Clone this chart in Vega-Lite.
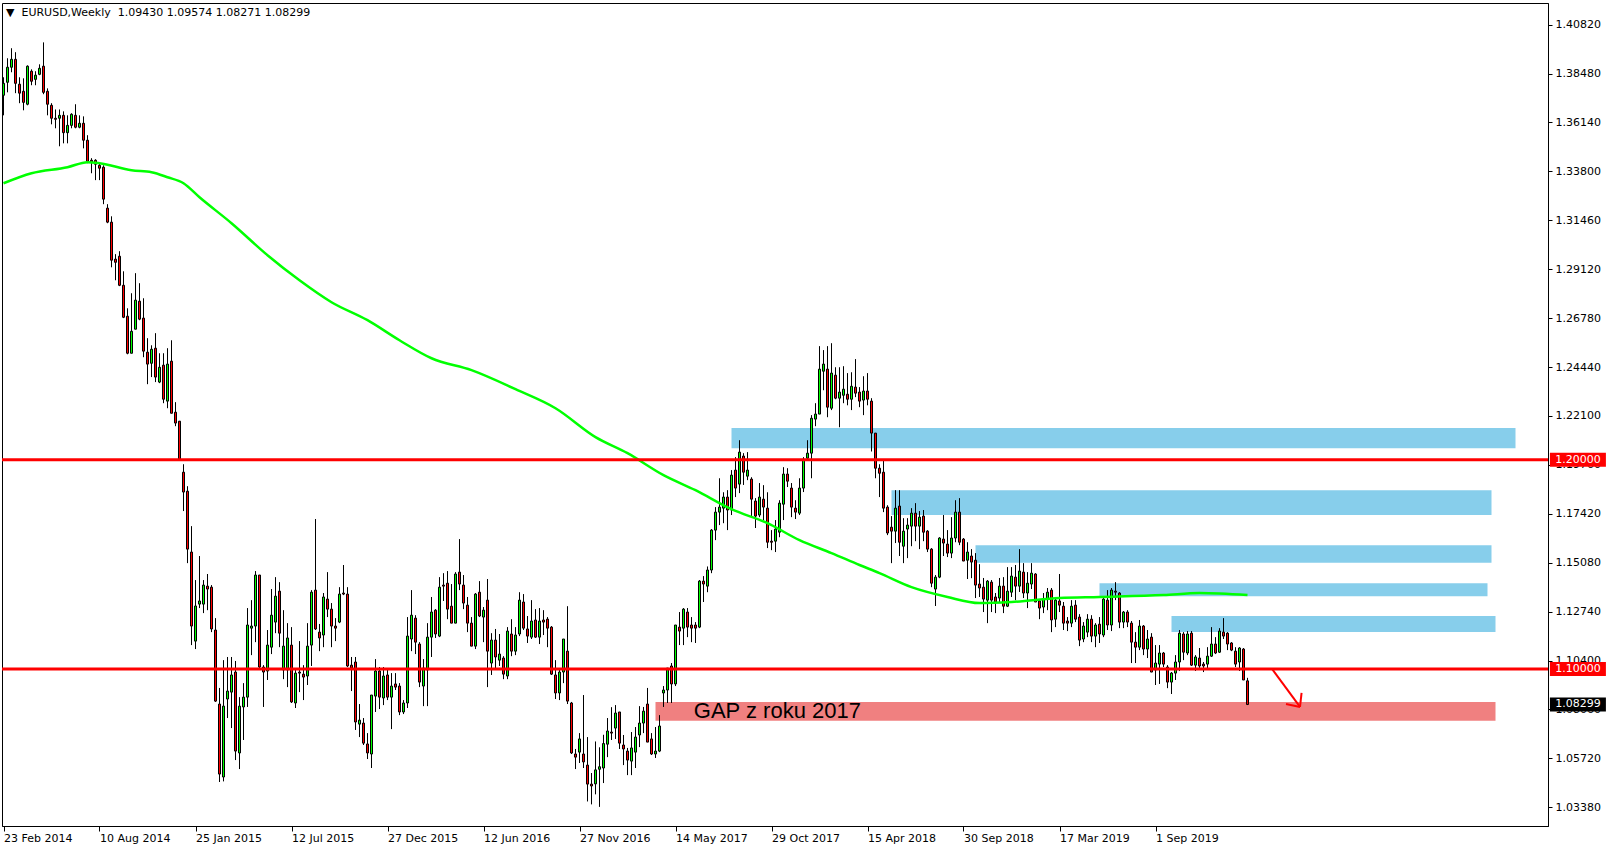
{
"$schema":"https://vega.github.io/schema/vega-lite/v6.json",
"width":1546,"height":823,
"autosize":{"type":"none"},
"padding":{"left":2,"top":3,"right":64,"bottom":24},
"background":"white",
"title":{"text":"▼\u00a0\u00a0EURUSD,Weekly\u00a0\u00a01.09430 1.09574 1.08271 1.08299","anchor":"start","frame":"group","offset":-15,"fontSize":11,"font":"DejaVu Sans","fontWeight":"normal","color":"black","dx":4},
"config":{"view":{"stroke":"black","strokeWidth":1},"text":{"font":"DejaVu Sans"},"scale":{"continuousPadding":0}},
"datasets":{
"candles":[
{"d":"2014-02-23","o":1.3744,"h":1.3830,"l":1.3648,"c":1.3801},
{"d":"2014-03-02","o":1.3806,"h":1.3921,"l":1.3758,"c":1.3878},
{"d":"2014-03-09","o":1.3878,"h":1.3969,"l":1.3854,"c":1.3916},
{"d":"2014-03-16","o":1.3916,"h":1.3950,"l":1.3754,"c":1.3801},
{"d":"2014-03-23","o":1.3797,"h":1.3830,"l":1.3706,"c":1.3754},
{"d":"2014-03-30","o":1.3763,"h":1.3825,"l":1.3672,"c":1.3710},
{"d":"2014-04-06","o":1.3701,"h":1.3887,"l":1.3696,"c":1.3883},
{"d":"2014-04-13","o":1.3859,"h":1.3868,"l":1.3792,"c":1.3811},
{"d":"2014-04-20","o":1.3820,"h":1.3859,"l":1.3792,"c":1.3840},
{"d":"2014-04-27","o":1.3844,"h":1.3892,"l":1.3840,"c":1.3873},
{"d":"2014-05-04","o":1.3883,"h":1.3997,"l":1.3749,"c":1.3758},
{"d":"2014-05-11","o":1.3763,"h":1.3777,"l":1.3648,"c":1.3701},
{"d":"2014-05-18","o":1.3696,"h":1.3706,"l":1.3605,"c":1.3634},
{"d":"2014-05-25","o":1.3634,"h":1.3676,"l":1.3586,"c":1.3629},
{"d":"2014-06-01","o":1.3634,"h":1.3676,"l":1.3500,"c":1.3648},
{"d":"2014-06-08","o":1.3648,"h":1.3667,"l":1.3514,"c":1.3565},
{"d":"2014-06-15","o":1.3565,"h":1.3648,"l":1.3514,"c":1.3600},
{"d":"2014-06-22","o":1.3600,"h":1.3658,"l":1.3586,"c":1.3653},
{"d":"2014-06-29","o":1.3648,"h":1.3701,"l":1.3586,"c":1.3591},
{"d":"2014-07-06","o":1.3591,"h":1.3648,"l":1.3586,"c":1.3610},
{"d":"2014-07-13","o":1.3610,"h":1.3643,"l":1.3490,"c":1.3529},
{"d":"2014-07-20","o":1.3529,"h":1.3553,"l":1.3419,"c":1.3428},
{"d":"2014-07-27","o":1.3433,"h":1.3443,"l":1.3371,"c":1.3424},
{"d":"2014-08-03","o":1.3433,"h":1.3438,"l":1.3338,"c":1.3414},
{"d":"2014-08-10","o":1.3409,"h":1.3419,"l":1.3338,"c":1.3395},
{"d":"2014-08-17","o":1.3400,"h":1.3409,"l":1.3223,"c":1.3247},
{"d":"2014-08-24","o":1.3204,"h":1.3223,"l":1.3132,"c":1.3137},
{"d":"2014-08-31","o":1.3137,"h":1.3165,"l":1.2921,"c":1.2955},
{"d":"2014-09-07","o":1.2960,"h":1.2984,"l":1.2859,"c":1.2945},
{"d":"2014-09-14","o":1.2974,"h":1.2998,"l":1.2831,"c":1.2835},
{"d":"2014-09-21","o":1.2835,"h":1.2902,"l":1.2678,"c":1.2682},
{"d":"2014-09-28","o":1.2687,"h":1.2725,"l":1.2505,"c":1.2510},
{"d":"2014-10-05","o":1.2510,"h":1.2797,"l":1.2510,"c":1.2615},
{"d":"2014-10-12","o":1.2625,"h":1.2893,"l":1.2625,"c":1.2764},
{"d":"2014-10-19","o":1.2759,"h":1.2845,"l":1.2668,"c":1.2673},
{"d":"2014-10-26","o":1.2678,"h":1.2773,"l":1.2491,"c":1.2520},
{"d":"2014-11-02","o":1.2515,"h":1.2582,"l":1.2362,"c":1.2458},
{"d":"2014-11-09","o":1.2462,"h":1.2548,"l":1.2396,"c":1.2529},
{"d":"2014-11-16","o":1.2534,"h":1.2606,"l":1.2372,"c":1.2396},
{"d":"2014-11-23","o":1.2372,"h":1.2510,"l":1.2367,"c":1.2443},
{"d":"2014-11-30","o":1.2453,"h":1.2510,"l":1.2271,"c":1.2290},
{"d":"2014-12-07","o":1.2281,"h":1.2534,"l":1.2247,"c":1.2458},
{"d":"2014-12-14","o":1.2472,"h":1.2572,"l":1.2223,"c":1.2223},
{"d":"2014-12-21","o":1.2228,"h":1.2276,"l":1.2161,"c":1.2176},
{"d":"2014-12-28","o":1.2185,"h":1.2185,"l":1.1999,"c":1.2003},
{"d":"2015-01-04","o":1.1941,"h":1.1979,"l":1.1755,"c":1.1846},
{"d":"2015-01-11","o":1.1850,"h":1.1874,"l":1.1506,"c":1.1573},
{"d":"2015-01-18","o":1.1559,"h":1.1683,"l":1.1114,"c":1.1205},
{"d":"2015-01-25","o":1.1133,"h":1.1425,"l":1.1095,"c":1.1301},
{"d":"2015-02-01","o":1.1310,"h":1.1540,"l":1.1291,"c":1.1325},
{"d":"2015-02-08","o":1.1310,"h":1.1425,"l":1.1267,"c":1.1401},
{"d":"2015-02-15","o":1.1396,"h":1.1454,"l":1.1281,"c":1.1382},
{"d":"2015-02-22","o":1.1391,"h":1.1401,"l":1.1176,"c":1.1191},
{"d":"2015-03-01","o":1.1186,"h":1.1243,"l":1.0842,"c":1.0846},
{"d":"2015-03-08","o":1.0832,"h":1.0909,"l":1.0459,"c":1.0497},
{"d":"2015-03-15","o":1.0483,"h":1.1042,"l":1.0462,"c":1.0822},
{"d":"2015-03-22","o":1.0856,"h":1.1057,"l":1.0765,"c":1.0894},
{"d":"2015-03-29","o":1.0889,"h":1.1057,"l":1.0717,"c":1.0971},
{"d":"2015-04-05","o":1.0985,"h":1.1038,"l":1.0564,"c":1.0607},
{"d":"2015-04-12","o":1.0598,"h":1.0865,"l":1.0521,"c":1.0822},
{"d":"2015-04-19","o":1.0818,"h":1.0932,"l":1.0660,"c":1.0865},
{"d":"2015-04-26","o":1.0865,"h":1.1291,"l":1.0818,"c":1.1210},
{"d":"2015-05-03","o":1.1195,"h":1.1329,"l":1.1066,"c":1.1205},
{"d":"2015-05-10","o":1.1205,"h":1.1468,"l":1.1128,"c":1.1449},
{"d":"2015-05-17","o":1.1449,"h":1.1449,"l":1.0995,"c":1.1009},
{"d":"2015-05-24","o":1.1009,"h":1.1018,"l":1.0818,"c":1.0985},
{"d":"2015-05-31","o":1.0990,"h":1.1186,"l":1.0947,"c":1.1114},
{"d":"2015-06-07","o":1.1104,"h":1.1382,"l":1.1071,"c":1.1257},
{"d":"2015-06-14","o":1.1224,"h":1.1439,"l":1.1171,"c":1.1348},
{"d":"2015-06-21","o":1.1372,"h":1.1415,"l":1.1104,"c":1.1171},
{"d":"2015-06-28","o":1.0995,"h":1.1281,"l":1.0951,"c":1.1109},
{"d":"2015-07-05","o":1.0995,"h":1.1219,"l":1.0913,"c":1.1148},
{"d":"2015-07-12","o":1.1114,"h":1.1200,"l":1.0837,"c":1.0842},
{"d":"2015-07-19","o":1.0837,"h":1.0995,"l":1.0813,"c":1.0980},
{"d":"2015-07-26","o":1.0985,"h":1.1133,"l":1.0889,"c":1.0980},
{"d":"2015-08-02","o":1.0975,"h":1.1018,"l":1.0851,"c":1.0961},
{"d":"2015-08-09","o":1.0966,"h":1.1219,"l":1.0923,"c":1.1109},
{"d":"2015-08-16","o":1.1114,"h":1.1377,"l":1.1014,"c":1.1367},
{"d":"2015-08-23","o":1.1377,"h":1.1717,"l":1.1186,"c":1.1191},
{"d":"2015-08-30","o":1.1176,"h":1.1215,"l":1.1085,"c":1.1148},
{"d":"2015-09-06","o":1.1162,"h":1.1363,"l":1.1104,"c":1.1344},
{"d":"2015-09-13","o":1.1334,"h":1.1463,"l":1.1248,"c":1.1286},
{"d":"2015-09-20","o":1.1286,"h":1.1315,"l":1.1104,"c":1.1205},
{"d":"2015-09-27","o":1.1205,"h":1.1243,"l":1.1133,"c":1.1195},
{"d":"2015-10-04","o":1.1224,"h":1.1391,"l":1.1219,"c":1.1358},
{"d":"2015-10-11","o":1.1363,"h":1.1497,"l":1.1353,"c":1.1358},
{"d":"2015-10-18","o":1.1358,"h":1.1391,"l":1.1009,"c":1.1014},
{"d":"2015-10-25","o":1.1018,"h":1.1057,"l":1.0894,"c":1.1004},
{"d":"2015-11-01","o":1.1033,"h":1.1057,"l":1.0708,"c":1.0746},
{"d":"2015-11-08","o":1.0736,"h":1.0832,"l":1.0674,"c":1.0755},
{"d":"2015-11-15","o":1.0741,"h":1.0765,"l":1.0636,"c":1.0645},
{"d":"2015-11-22","o":1.0641,"h":1.0693,"l":1.0569,"c":1.0598},
{"d":"2015-11-29","o":1.0593,"h":1.0875,"l":1.0526,"c":1.0875},
{"d":"2015-12-06","o":1.0870,"h":1.1047,"l":1.0794,"c":1.0990},
{"d":"2015-12-13","o":1.0990,"h":1.1009,"l":1.0808,"c":1.0865},
{"d":"2015-12-20","o":1.0861,"h":1.1009,"l":1.0827,"c":1.0966},
{"d":"2015-12-27","o":1.0971,"h":1.0995,"l":1.0851,"c":1.0865},
{"d":"2016-01-03","o":1.0865,"h":1.0980,"l":1.0712,"c":1.0918},
{"d":"2016-01-10","o":1.0928,"h":1.0980,"l":1.0899,"c":1.0913},
{"d":"2016-01-17","o":1.0918,"h":1.0932,"l":1.0779,"c":1.0794},
{"d":"2016-01-24","o":1.0794,"h":1.0851,"l":1.0784,"c":1.0837},
{"d":"2016-01-31","o":1.0837,"h":1.1248,"l":1.0813,"c":1.1157},
{"d":"2016-02-07","o":1.1143,"h":1.1377,"l":1.1085,"c":1.1257},
{"d":"2016-02-14","o":1.1243,"h":1.1257,"l":1.1071,"c":1.1128},
{"d":"2016-02-21","o":1.1119,"h":1.1128,"l":1.0913,"c":1.0937},
{"d":"2016-02-28","o":1.0918,"h":1.1047,"l":1.0822,"c":1.1004},
{"d":"2016-03-06","o":1.0995,"h":1.1219,"l":1.0822,"c":1.1152},
{"d":"2016-03-13","o":1.1152,"h":1.1344,"l":1.1057,"c":1.1272},
{"d":"2016-03-20","o":1.1281,"h":1.1286,"l":1.1148,"c":1.1167},
{"d":"2016-03-27","o":1.1157,"h":1.1439,"l":1.1152,"c":1.1391},
{"d":"2016-04-03","o":1.1401,"h":1.1458,"l":1.1325,"c":1.1396},
{"d":"2016-04-10","o":1.1410,"h":1.1468,"l":1.1238,"c":1.1286},
{"d":"2016-04-17","o":1.1300,"h":1.1406,"l":1.1219,"c":1.1219},
{"d":"2016-04-24","o":1.1219,"h":1.1463,"l":1.1219,"c":1.1454},
{"d":"2016-05-01","o":1.1463,"h":1.1621,"l":1.1377,"c":1.1406},
{"d":"2016-05-08","o":1.1401,"h":1.1449,"l":1.1286,"c":1.1315},
{"d":"2016-05-15","o":1.1305,"h":1.1344,"l":1.1176,"c":1.1219},
{"d":"2016-05-22","o":1.1219,"h":1.1248,"l":1.1109,"c":1.1109},
{"d":"2016-05-29","o":1.1109,"h":1.1363,"l":1.1095,"c":1.1358},
{"d":"2016-06-05","o":1.1367,"h":1.1420,"l":1.1248,"c":1.1253},
{"d":"2016-06-12","o":1.1248,"h":1.1296,"l":1.1128,"c":1.1281},
{"d":"2016-06-19","o":1.1329,"h":1.1430,"l":1.0913,"c":1.1085},
{"d":"2016-06-26","o":1.1028,"h":1.1171,"l":1.0971,"c":1.1138},
{"d":"2016-07-03","o":1.1138,"h":1.1191,"l":1.0999,"c":1.1057},
{"d":"2016-07-10","o":1.1042,"h":1.1167,"l":1.1014,"c":1.1071},
{"d":"2016-07-17","o":1.1052,"h":1.1061,"l":1.0951,"c":1.0975},
{"d":"2016-07-24","o":1.0966,"h":1.1200,"l":1.0951,"c":1.1181},
{"d":"2016-07-31","o":1.1167,"h":1.1238,"l":1.1061,"c":1.1085},
{"d":"2016-08-07","o":1.1085,"h":1.1200,"l":1.1066,"c":1.1162},
{"d":"2016-08-14","o":1.1167,"h":1.1367,"l":1.1157,"c":1.1329},
{"d":"2016-08-21","o":1.1320,"h":1.1358,"l":1.1186,"c":1.1195},
{"d":"2016-08-28","o":1.1191,"h":1.1253,"l":1.1124,"c":1.1157},
{"d":"2016-09-04","o":1.1152,"h":1.1329,"l":1.1143,"c":1.1229},
{"d":"2016-09-11","o":1.1234,"h":1.1286,"l":1.1148,"c":1.1152},
{"d":"2016-09-18","o":1.1152,"h":1.1291,"l":1.1119,"c":1.1229},
{"d":"2016-09-25","o":1.1234,"h":1.1281,"l":1.1162,"c":1.1224},
{"d":"2016-10-02","o":1.1238,"h":1.1248,"l":1.1104,"c":1.1195},
{"d":"2016-10-09","o":1.1200,"h":1.1205,"l":1.0971,"c":1.0975},
{"d":"2016-10-16","o":1.0971,"h":1.1042,"l":1.0856,"c":1.0885},
{"d":"2016-10-23","o":1.0885,"h":1.0995,"l":1.0851,"c":1.0985},
{"d":"2016-10-30","o":1.0985,"h":1.1143,"l":1.0932,"c":1.1143},
{"d":"2016-11-06","o":1.1085,"h":1.1300,"l":1.0832,"c":1.0846},
{"d":"2016-11-13","o":1.0837,"h":1.0842,"l":1.0593,"c":1.0598},
{"d":"2016-11-20","o":1.0593,"h":1.0617,"l":1.0521,"c":1.0578},
{"d":"2016-11-27","o":1.0602,"h":1.0693,"l":1.0550,"c":1.0665},
{"d":"2016-12-04","o":1.0593,"h":1.0875,"l":1.0526,"c":1.0555},
{"d":"2016-12-11","o":1.0540,"h":1.0674,"l":1.0366,"c":1.0449},
{"d":"2016-12-18","o":1.0449,"h":1.0502,"l":1.0352,"c":1.0440},
{"d":"2016-12-25","o":1.0450,"h":1.0653,"l":1.0400,"c":1.0517},
{"d":"2017-01-01","o":1.0520,"h":1.0625,"l":1.0340,"c":1.0532},
{"d":"2017-01-08","o":1.0526,"h":1.0685,"l":1.0454,"c":1.0643},
{"d":"2017-01-15","o":1.0640,"h":1.0765,"l":1.0578,"c":1.0703},
{"d":"2017-01-22","o":1.0698,"h":1.0817,"l":1.0660,"c":1.0693},
{"d":"2017-01-29","o":1.0717,"h":1.0827,"l":1.0665,"c":1.0789},
{"d":"2017-02-05","o":1.0794,"h":1.0794,"l":1.0617,"c":1.0645},
{"d":"2017-02-12","o":1.0636,"h":1.0684,"l":1.0540,"c":1.0617},
{"d":"2017-02-19","o":1.0607,"h":1.0622,"l":1.0492,"c":1.0564},
{"d":"2017-02-26","o":1.0559,"h":1.0698,"l":1.0492,"c":1.0622},
{"d":"2017-03-05","o":1.0602,"h":1.0722,"l":1.0526,"c":1.0674},
{"d":"2017-03-12","o":1.0684,"h":1.0822,"l":1.0626,"c":1.0741},
{"d":"2017-03-19","o":1.0741,"h":1.0818,"l":1.0693,"c":1.0798},
{"d":"2017-03-26","o":1.0832,"h":1.0909,"l":1.0650,"c":1.0650},
{"d":"2017-04-02","o":1.0665,"h":1.0693,"l":1.0588,"c":1.0593},
{"d":"2017-04-09","o":1.0593,"h":1.0722,"l":1.0574,"c":1.0607},
{"d":"2017-04-16","o":1.0607,"h":1.0779,"l":1.0602,"c":1.0727},
{"d":"2017-04-23","o":1.0885,"h":1.0918,"l":1.0818,"c":1.0899},
{"d":"2017-04-30","o":1.0899,"h":1.1004,"l":1.0837,"c":1.1004},
{"d":"2017-05-07","o":1.1014,"h":1.1028,"l":1.0837,"c":1.0928},
{"d":"2017-05-14","o":1.0928,"h":1.1210,"l":1.0918,"c":1.1210},
{"d":"2017-05-21","o":1.1200,"h":1.1272,"l":1.1114,"c":1.1181},
{"d":"2017-05-28","o":1.1195,"h":1.1291,"l":1.1114,"c":1.1286},
{"d":"2017-06-04","o":1.1272,"h":1.1291,"l":1.1152,"c":1.1200},
{"d":"2017-06-11","o":1.1210,"h":1.1248,"l":1.1128,"c":1.1195},
{"d":"2017-06-18","o":1.1210,"h":1.1224,"l":1.1124,"c":1.1195},
{"d":"2017-06-25","o":1.1200,"h":1.1425,"l":1.1195,"c":1.1420},
{"d":"2017-07-02","o":1.1420,"h":1.1444,"l":1.1320,"c":1.1406},
{"d":"2017-07-09","o":1.1396,"h":1.1490,"l":1.1367,"c":1.1473},
{"d":"2017-07-16","o":1.1473,"h":1.1669,"l":1.1458,"c":1.1664},
{"d":"2017-07-23","o":1.1664,"h":1.1774,"l":1.1616,"c":1.1750},
{"d":"2017-07-30","o":1.1750,"h":1.1912,"l":1.1688,"c":1.1774},
{"d":"2017-08-06","o":1.1769,"h":1.1845,"l":1.1697,"c":1.1822},
{"d":"2017-08-13","o":1.1822,"h":1.1855,"l":1.1664,"c":1.1760},
{"d":"2017-08-20","o":1.1760,"h":1.1951,"l":1.1736,"c":1.1927},
{"d":"2017-08-27","o":1.1951,"h":1.2013,"l":1.1822,"c":1.1865},
{"d":"2017-09-03","o":1.1884,"h":1.2094,"l":1.1841,"c":1.2037},
{"d":"2017-09-10","o":1.2018,"h":1.2032,"l":1.1880,"c":1.1941},
{"d":"2017-09-17","o":1.1922,"h":1.2037,"l":1.1903,"c":1.1951},
{"d":"2017-09-24","o":1.1908,"h":1.1917,"l":1.1726,"c":1.1812},
{"d":"2017-10-01","o":1.1803,"h":1.1817,"l":1.1674,"c":1.1731},
{"d":"2017-10-08","o":1.1736,"h":1.1889,"l":1.1726,"c":1.1822},
{"d":"2017-10-15","o":1.1812,"h":1.1879,"l":1.1712,"c":1.1774},
{"d":"2017-10-22","o":1.1769,"h":1.1845,"l":1.1578,"c":1.1606},
{"d":"2017-10-29","o":1.1611,"h":1.1664,"l":1.1568,"c":1.1606},
{"d":"2017-11-05","o":1.1611,"h":1.1712,"l":1.1559,"c":1.1669},
{"d":"2017-11-12","o":1.1654,"h":1.1807,"l":1.1630,"c":1.1793},
{"d":"2017-11-19","o":1.1788,"h":1.1965,"l":1.1712,"c":1.1932},
{"d":"2017-11-26","o":1.1932,"h":1.1960,"l":1.1870,"c":1.1898},
{"d":"2017-12-03","o":1.1865,"h":1.1889,"l":1.1726,"c":1.1774},
{"d":"2017-12-10","o":1.1769,"h":1.1807,"l":1.1717,"c":1.1750},
{"d":"2017-12-17","o":1.1745,"h":1.1912,"l":1.1736,"c":1.1865},
{"d":"2017-12-24","o":1.1865,"h":1.2013,"l":1.1846,"c":1.2003},
{"d":"2017-12-31","o":1.2008,"h":1.2094,"l":1.1999,"c":1.2032},
{"d":"2018-01-07","o":1.2032,"h":1.2214,"l":1.1912,"c":1.2199},
{"d":"2018-01-14","o":1.2195,"h":1.2271,"l":1.2161,"c":1.2219},
{"d":"2018-01-21","o":1.2219,"h":1.2544,"l":1.2219,"c":1.2434},
{"d":"2018-01-28","o":1.2424,"h":1.2525,"l":1.2333,"c":1.2458},
{"d":"2018-02-04","o":1.2434,"h":1.2544,"l":1.2204,"c":1.2252},
{"d":"2018-02-11","o":1.2247,"h":1.2558,"l":1.2238,"c":1.2415},
{"d":"2018-02-18","o":1.2405,"h":1.2443,"l":1.2290,"c":1.2295},
{"d":"2018-02-25","o":1.2295,"h":1.2443,"l":1.2156,"c":1.2324},
{"d":"2018-03-04","o":1.2309,"h":1.2448,"l":1.2271,"c":1.2338},
{"d":"2018-03-11","o":1.2314,"h":1.2415,"l":1.2261,"c":1.2290},
{"d":"2018-03-18","o":1.2290,"h":1.2419,"l":1.2238,"c":1.2352},
{"d":"2018-03-25","o":1.2348,"h":1.2482,"l":1.2300,"c":1.2319},
{"d":"2018-04-01","o":1.2324,"h":1.2348,"l":1.2252,"c":1.2281},
{"d":"2018-04-08","o":1.2286,"h":1.2400,"l":1.2214,"c":1.2329},
{"d":"2018-04-15","o":1.2329,"h":1.2415,"l":1.2261,"c":1.2290},
{"d":"2018-04-22","o":1.2281,"h":1.2295,"l":1.2040,"c":1.2128},
{"d":"2018-04-29","o":1.2128,"h":1.2128,"l":1.1912,"c":1.1960},
{"d":"2018-05-06","o":1.1960,"h":1.1979,"l":1.1822,"c":1.1936},
{"d":"2018-05-13","o":1.1941,"h":1.1999,"l":1.1750,"c":1.1769},
{"d":"2018-05-20","o":1.1774,"h":1.1783,"l":1.1640,"c":1.1650},
{"d":"2018-05-27","o":1.1678,"h":1.1731,"l":1.1506,"c":1.1659},
{"d":"2018-06-03","o":1.1659,"h":1.1855,"l":1.1602,"c":1.1769},
{"d":"2018-06-10","o":1.1779,"h":1.1855,"l":1.1540,"c":1.1606},
{"d":"2018-06-17","o":1.1587,"h":1.1721,"l":1.1506,"c":1.1659},
{"d":"2018-06-24","o":1.1669,"h":1.1721,"l":1.1530,"c":1.1688},
{"d":"2018-07-01","o":1.1683,"h":1.1769,"l":1.1587,"c":1.1745},
{"d":"2018-07-08","o":1.1745,"h":1.1793,"l":1.1611,"c":1.1683},
{"d":"2018-07-15","o":1.1683,"h":1.1755,"l":1.1573,"c":1.1726},
{"d":"2018-07-22","o":1.1731,"h":1.1760,"l":1.1611,"c":1.1654},
{"d":"2018-07-29","o":1.1659,"h":1.1664,"l":1.1559,"c":1.1573},
{"d":"2018-08-05","o":1.1573,"h":1.1578,"l":1.1391,"c":1.1410},
{"d":"2018-08-12","o":1.1382,"h":1.1449,"l":1.1301,"c":1.1439},
{"d":"2018-08-19","o":1.1439,"h":1.1630,"l":1.1434,"c":1.1626},
{"d":"2018-08-26","o":1.1621,"h":1.1736,"l":1.1540,"c":1.1602},
{"d":"2018-09-02","o":1.1597,"h":1.1664,"l":1.1535,"c":1.1554},
{"d":"2018-09-09","o":1.1554,"h":1.1726,"l":1.1530,"c":1.1626},
{"d":"2018-09-16","o":1.1626,"h":1.1807,"l":1.1606,"c":1.1750},
{"d":"2018-09-23","o":1.1750,"h":1.1817,"l":1.1592,"c":1.1606},
{"d":"2018-09-30","o":1.1621,"h":1.1626,"l":1.1516,"c":1.1516},
{"d":"2018-10-07","o":1.1520,"h":1.1606,"l":1.1430,"c":1.1559},
{"d":"2018-10-14","o":1.1540,"h":1.1573,"l":1.1434,"c":1.1511},
{"d":"2018-10-21","o":1.1520,"h":1.1554,"l":1.1339,"c":1.1401},
{"d":"2018-10-28","o":1.1406,"h":1.1501,"l":1.1344,"c":1.1387},
{"d":"2018-11-04","o":1.1391,"h":1.1435,"l":1.1272,"c":1.1334},
{"d":"2018-11-11","o":1.1329,"h":1.1425,"l":1.1219,"c":1.1420},
{"d":"2018-11-18","o":1.1415,"h":1.1425,"l":1.1272,"c":1.1329},
{"d":"2018-11-25","o":1.1344,"h":1.1363,"l":1.1267,"c":1.1320},
{"d":"2018-12-02","o":1.1339,"h":1.1435,"l":1.1320,"c":1.1396},
{"d":"2018-12-09","o":1.1396,"h":1.1439,"l":1.1267,"c":1.1300},
{"d":"2018-12-16","o":1.1300,"h":1.1487,"l":1.1296,"c":1.1372},
{"d":"2018-12-23","o":1.1367,"h":1.1487,"l":1.1344,"c":1.1444},
{"d":"2018-12-30","o":1.1439,"h":1.1497,"l":1.1329,"c":1.1396},
{"d":"2019-01-06","o":1.1396,"h":1.1573,"l":1.1368,"c":1.1468},
{"d":"2019-01-13","o":1.1463,"h":1.1506,"l":1.1339,"c":1.1363},
{"d":"2019-01-20","o":1.1363,"h":1.1463,"l":1.1291,"c":1.1410},
{"d":"2019-01-27","o":1.1406,"h":1.1506,"l":1.1382,"c":1.1458},
{"d":"2019-02-03","o":1.1454,"h":1.1458,"l":1.1320,"c":1.1320},
{"d":"2019-02-10","o":1.1325,"h":1.1329,"l":1.1238,"c":1.1291},
{"d":"2019-02-17","o":1.1296,"h":1.1363,"l":1.1267,"c":1.1334},
{"d":"2019-02-24","o":1.1334,"h":1.1387,"l":1.1281,"c":1.1367},
{"d":"2019-03-03","o":1.1377,"h":1.1387,"l":1.1176,"c":1.1234},
{"d":"2019-03-10","o":1.1238,"h":1.1344,"l":1.1200,"c":1.1329},
{"d":"2019-03-17","o":1.1325,"h":1.1454,"l":1.1272,"c":1.1305},
{"d":"2019-03-24","o":1.1300,"h":1.1320,"l":1.1186,"c":1.1219},
{"d":"2019-03-31","o":1.1229,"h":1.1248,"l":1.1181,"c":1.1219},
{"d":"2019-04-07","o":1.1219,"h":1.1329,"l":1.1200,"c":1.1300},
{"d":"2019-04-14","o":1.1305,"h":1.1329,"l":1.1224,"c":1.1238},
{"d":"2019-04-21","o":1.1248,"h":1.1262,"l":1.1109,"c":1.1138},
{"d":"2019-04-28","o":1.1143,"h":1.1224,"l":1.1128,"c":1.1205},
{"d":"2019-05-05","o":1.1176,"h":1.1262,"l":1.1152,"c":1.1238},
{"d":"2019-05-12","o":1.1238,"h":1.1257,"l":1.1128,"c":1.1157},
{"d":"2019-05-19","o":1.1157,"h":1.1219,"l":1.1104,"c":1.1210},
{"d":"2019-05-26","o":1.1214,"h":1.1248,"l":1.1124,"c":1.1167},
{"d":"2019-06-02","o":1.1162,"h":1.1339,"l":1.1152,"c":1.1334},
{"d":"2019-06-09","o":1.1329,"h":1.1377,"l":1.1186,"c":1.1210},
{"d":"2019-06-16","o":1.1210,"h":1.1387,"l":1.1181,"c":1.1377},
{"d":"2019-06-23","o":1.1372,"h":1.1415,"l":1.1329,"c":1.1367},
{"d":"2019-06-30","o":1.1363,"h":1.1367,"l":1.1195,"c":1.1224},
{"d":"2019-07-07","o":1.1224,"h":1.1277,"l":1.1195,"c":1.1272},
{"d":"2019-07-14","o":1.1272,"h":1.1281,"l":1.1200,"c":1.1224},
{"d":"2019-07-21","o":1.1219,"h":1.1229,"l":1.1028,"c":1.1128},
{"d":"2019-07-28","o":1.1128,"h":1.1176,"l":1.1028,"c":1.1104},
{"d":"2019-08-04","o":1.1104,"h":1.1234,"l":1.1090,"c":1.1205},
{"d":"2019-08-11","o":1.1205,"h":1.1210,"l":1.1066,"c":1.1095},
{"d":"2019-08-18","o":1.1095,"h":1.1186,"l":1.1052,"c":1.1143},
{"d":"2019-08-25","o":1.1152,"h":1.1171,"l":1.0985,"c":1.0985},
{"d":"2019-09-01","o":1.0995,"h":1.1114,"l":1.0923,"c":1.1028},
{"d":"2019-09-08","o":1.1023,"h":1.1114,"l":1.0928,"c":1.1076},
{"d":"2019-09-15","o":1.1076,"h":1.1081,"l":1.1009,"c":1.1023},
{"d":"2019-09-22","o":1.1009,"h":1.1018,"l":1.0908,"c":1.0937},
{"d":"2019-09-29","o":1.0937,"h":1.0985,"l":1.0880,"c":1.0980},
{"d":"2019-10-06","o":1.0980,"h":1.1066,"l":1.0947,"c":1.1033},
{"d":"2019-10-13","o":1.1033,"h":1.1186,"l":1.0990,"c":1.1171},
{"d":"2019-10-20","o":1.1167,"h":1.1176,"l":1.1042,"c":1.1080},
{"d":"2019-10-27","o":1.1076,"h":1.1181,"l":1.1066,"c":1.1167},
{"d":"2019-11-03","o":1.1171,"h":1.1181,"l":1.1014,"c":1.1018},
{"d":"2019-11-10","o":1.1018,"h":1.1066,"l":1.0990,"c":1.1057},
{"d":"2019-11-17","o":1.1052,"h":1.1100,"l":1.0995,"c":1.1014},
{"d":"2019-11-24","o":1.1023,"h":1.1033,"l":1.0985,"c":1.1014},
{"d":"2019-12-01","o":1.1023,"h":1.1104,"l":1.1004,"c":1.1061},
{"d":"2019-12-08","o":1.1061,"h":1.1200,"l":1.1057,"c":1.1119},
{"d":"2019-12-15","o":1.1119,"h":1.1152,"l":1.1071,"c":1.1076},
{"d":"2019-12-22","o":1.1080,"h":1.1195,"l":1.1076,"c":1.1181},
{"d":"2019-12-29","o":1.1176,"h":1.1243,"l":1.1143,"c":1.1157},
{"d":"2020-01-05","o":1.1171,"h":1.1176,"l":1.1090,"c":1.1119},
{"d":"2020-01-12","o":1.1124,"h":1.1128,"l":1.1085,"c":1.1090},
{"d":"2020-01-19","o":1.1085,"h":1.1104,"l":1.1009,"c":1.1023},
{"d":"2020-01-26","o":1.1033,"h":1.1104,"l":1.0990,"c":1.1100},
{"d":"2020-02-02","o":1.1095,"h":1.1100,"l":1.0947,"c":1.0947},
{"d":"2020-02-09","o":1.0943,"h":1.09574,"l":1.08271,"c":1.08299}
],
"ma":[
{"d":"2014-02-23","m":1.3323},{"d":"2014-04-13","m":1.3371},{"d":"2014-06-15","m":1.3400},{"d":"2014-07-20","m":1.3424},{"d":"2014-08-10","m":1.3419},{"d":"2014-10-05","m":1.3385},{"d":"2014-11-09","m":1.3376},{"d":"2014-12-07","m":1.3352},{"d":"2015-01-04","m":1.3323},{"d":"2015-02-01","m":1.3256},{"d":"2015-03-29","m":1.3132},{"d":"2015-05-31","m":1.2979},{"d":"2015-07-26","m":1.2859},{"d":"2015-09-20","m":1.2754},{"d":"2015-11-22","m":1.2668},{"d":"2016-01-17","m":1.2572},{"d":"2016-03-13","m":1.2486},{"d":"2016-05-22","m":1.2429},{"d":"2016-08-07","m":1.2338},{"d":"2016-10-16","m":1.2247},{"d":"2016-12-25","m":1.2109},{"d":"2017-02-19","m":1.2032},{"d":"2017-04-23","m":1.1927},{"d":"2017-06-18","m":1.1855},{"d":"2017-08-20","m":1.1764},{"d":"2017-10-22","m":1.1697},{"d":"2017-12-17","m":1.1616},{"d":"2018-02-11","m":1.1554},{"d":"2018-04-01","m":1.1497},{"d":"2018-05-06","m":1.1458},{"d":"2018-07-01","m":1.1391},{"d":"2018-09-02","m":1.1344},{"d":"2018-10-28","m":1.1315},{"d":"2018-12-23","m":1.1320},{"d":"2019-03-17","m":1.1339},{"d":"2019-05-26","m":1.1344},{"d":"2019-09-15","m":1.1353},{"d":"2019-11-17","m":1.1363},{"d":"2020-02-09","m":1.1353}
],
"zones":[
{"d1":"2017-08-20","d2":"2021-05-23","p1":1.2152,"p2":1.2056},
{"d1":"2018-05-27","d2":"2021-04-11","p1":1.1855,"p2":1.1736},
{"d1":"2018-10-21","d2":"2021-04-11","p1":1.1592,"p2":1.1508},
{"d1":"2019-05-26","d2":"2021-04-04","p1":1.1410,"p2":1.1348},
{"d1":"2019-09-29","d2":"2021-04-18","p1":1.1253,"p2":1.1176}
],
"gap":[{"d1":"2017-04-09","d2":"2021-04-18","p1":1.0842,"p2":1.0752,"label":"GAP z roku 2017","d":"2017-06-15","p":1.0798}],
"levels":[{"p":1.2},{"p":1.1}],
"arrow":[
{"x1":"2020-03-22T21:00:00Z","y1":1.1000,"x2":"2020-05-10T21:00:00Z","y2":1.0818},
{"x1":"2020-05-10T21:00:00Z","y1":1.0818,"x2":"2020-05-13T15:00:00Z","y2":1.0885},
{"x1":"2020-05-10T21:00:00Z","y1":1.0818,"x2":"2020-04-16T09:00:00Z","y2":1.0832}
],
"tags":[{"p":1.2,"t":"1.20000","k":"level"},{"p":1.1,"t":"1.10000","k":"level"},{"p":1.08299,"t":"1.08299","k":"last"}]
},
"layer":[
{"data":{"name":"zones"},"mark":{"type":"rect","color":"#87CEEB"},
 "encoding":{
  "x":{"field":"d1","type":"temporal","scale":{"type":"utc","padding":0,"nice":false,"domain":[{"year":2014,"month":2,"date":20,"hours":9,"utc":true},{"year":2021,"month":7,"date":18,"hours":21,"utc":true}]},
   "axis":{"title":null,"values":[{"year":2014,"month":2,"date":23,"utc":true},{"year":2014,"month":8,"date":10,"utc":true},{"year":2015,"month":1,"date":25,"utc":true},{"year":2015,"month":7,"date":12,"utc":true},{"year":2015,"month":12,"date":27,"utc":true},{"year":2016,"month":6,"date":12,"utc":true},{"year":2016,"month":11,"date":27,"utc":true},{"year":2017,"month":5,"date":14,"utc":true},{"year":2017,"month":10,"date":29,"utc":true},{"year":2018,"month":4,"date":15,"utc":true},{"year":2018,"month":9,"date":30,"utc":true},{"year":2019,"month":3,"date":17,"utc":true},{"year":2019,"month":9,"date":1,"utc":true}],
    "labelExpr":"utcFormat(datum.value, '%-d %b %Y')","labelAlign":"left","labelBaseline":"top","labelPadding":1,"tickSize":5,"tickColor":"black","domainColor":"black","labelColor":"black","labelFont":"DejaVu Sans","labelFontSize":11,"grid":false,"labelOverlap":false,"labelFlush":false}},
  "x2":{"field":"d2"},
  "y":{"field":"p1","type":"quantitative","scale":{"domain":[1.02486,1.41853],"nice":false,"zero":false,"padding":0},
   "axis":{"title":null,"orient":"right","values":[1.0338,1.0572,1.0806,1.104,1.1274,1.1508,1.1742,1.1976,1.221,1.2444,1.2678,1.2912,1.3146,1.338,1.3614,1.3848,1.4082],"format":".5f","tickSize":4,"labelPadding":3,"labelFontSize":11,"labelFont":"DejaVu Sans","labelColor":"black","tickColor":"black","domainColor":"black","grid":false,"labelOverlap":false,"labelFlush":false,"labelBaseline":"middle"}},
  "y2":{"field":"p2"}}},
{"data":{"name":"gap"},"mark":{"type":"rect","color":"#F08080"},
 "encoding":{"x":{"field":"d1","type":"temporal"},"x2":{"field":"d2"},"y":{"field":"p1","type":"quantitative"},"y2":{"field":"p2"}}},
{"data":{"name":"gap"},"mark":{"type":"text","align":"left","baseline":"middle","fontSize":22,"font":"Liberation Sans","color":"black"},
 "encoding":{"x":{"field":"d","type":"temporal"},"y":{"field":"p","type":"quantitative"},"text":{"field":"label"}}},
{"data":{"name":"candles"},"mark":{"type":"rule","color":"black","strokeWidth":1},
 "encoding":{"x":{"field":"d","type":"temporal"},"y":{"field":"l","type":"quantitative"},"y2":{"field":"h"}}},
{"data":{"name":"candles"},"mark":{"type":"bar","size":2,"stroke":"black","strokeWidth":1},
 "encoding":{"x":{"field":"d","type":"temporal"},"y":{"field":"o","type":"quantitative"},"y2":{"field":"c"},
  "fill":{"condition":{"test":"datum.c >= datum.o","value":"#00FF00"},"value":"#FF0000"}}},
{"data":{"name":"ma"},"mark":{"type":"line","color":"#00FF00","strokeWidth":2.5,"interpolate":"monotone"},
 "encoding":{"x":{"field":"d","type":"temporal"},"y":{"field":"m","type":"quantitative"}}},
{"data":{"name":"levels"},"mark":{"type":"rule","color":"#FF0000","strokeWidth":3},
 "encoding":{"y":{"field":"p","type":"quantitative"}}},
{"data":{"name":"arrow"},"mark":{"type":"rule","color":"#FF0000","strokeWidth":2},
 "encoding":{"x":{"field":"x1","type":"temporal"},"x2":{"field":"x2"},"y":{"field":"y1","type":"quantitative"},"y2":{"field":"y2"}}},
{"data":{"name":"tags"},"transform":[{"filter":"datum.k == 'level'"}],"mark":{"type":"point","shape":"M-1,-0.25H1V0.25H-1Z","filled":true,"size":3136,"opacity":1,"color":"#FF0000","strokeWidth":0},
 "encoding":{"x":{"datum":{"year":2021,"month":9,"date":9,"hours":5,"utc":true},"type":"temporal"},"y":{"field":"p","type":"quantitative"}}},
{"data":{"name":"tags"},"transform":[{"filter":"datum.k == 'last'"}],"mark":{"type":"point","shape":"M-1,-0.25H1V0.25H-1Z","filled":true,"size":3136,"opacity":1,"color":"#000000","strokeWidth":0},
 "encoding":{"x":{"datum":{"year":2021,"month":9,"date":9,"hours":5,"utc":true},"type":"temporal"},"y":{"field":"p","type":"quantitative"}}},
{"data":{"name":"tags"},"mark":{"type":"text","align":"center","baseline":"middle","fontSize":11,"font":"DejaVu Sans","color":"white"},
 "encoding":{"x":{"datum":{"year":2021,"month":9,"date":9,"hours":5,"utc":true},"type":"temporal"},"y":{"field":"p","type":"quantitative"},"text":{"field":"t"}}}
]
}
